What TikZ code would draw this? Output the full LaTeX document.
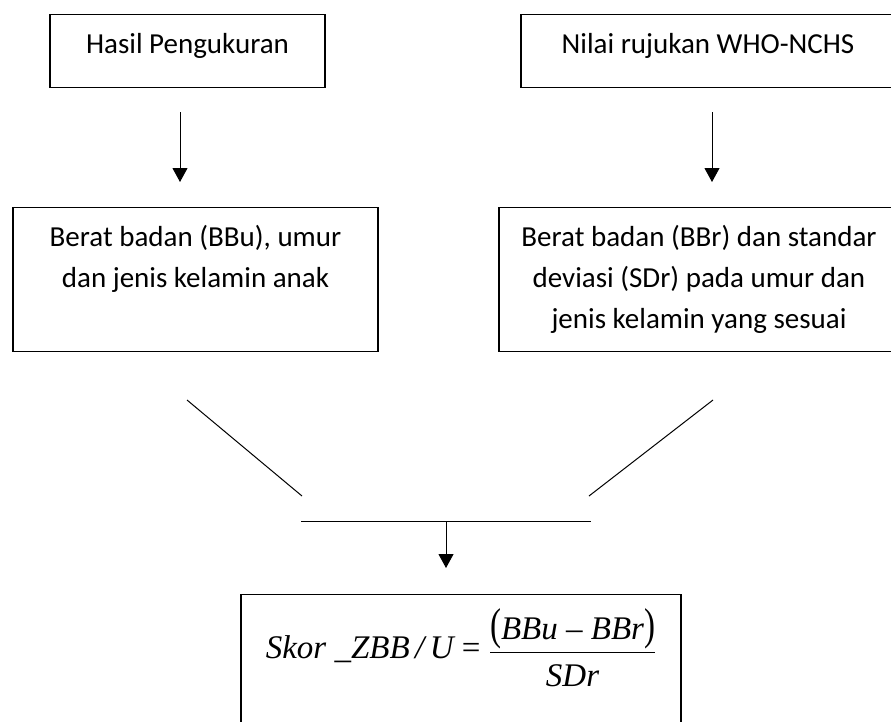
\documentclass[tikz,border=0pt]{standalone}
\usepackage{amsmath}
\usepackage{fontspec}
\setmainfont{Carlito}
\newfontfamily\formfont{Liberation Serif}
\usetikzlibrary{arrows.meta, calc}
\newcommand{\itf}[1]{\text{\formfont\itshape #1}}
\newcommand{\tallparen}[1]{\text{\scalebox{1}[1.35]{\formfont #1}}}

\begin{document}
\begin{tikzpicture}[x=1pt, y=-1pt, line cap=butt, line join=miter,
	box/.style={draw, line width=1.1pt, inner sep=0pt, align=center,
		font=\fontsize{29}{41}\selectfont},
	flow/.style={-{Triangle[length=14pt, width=15pt]}, line width=1pt},
	link/.style={line width=1pt}]
\useasboundingbox (0,0) rectangle (891,721);
%========================
% Top row: sources
%========================
\node[box, anchor=north, minimum width=275pt, text height=39pt, text depth=34pt]
	(hasil) at (187.5,14) {Hasil Pengukuran};
\node[box, anchor=north, minimum width=374pt, text height=39pt, text depth=34pt]
	(nilai) at (708,14) {Nilai rujukan WHO-NCHS};

%========================
% Second row: data
%========================
\node[box, anchor=north, minimum width=365pt, minimum height=144pt]
	(berat) at (195.5,207) {Berat badan (BBu), umur\\dan jenis kelamin anak\\\vphantom{jy}};
\node[box, anchor=north, minimum width=400pt, minimum height=144pt]
	(rujukan) at (699,207) {Berat badan (BBr) dan standar\\deviasi (SDr) pada umur dan\\jenis kelamin yang sesuai};

% arrows down
\draw[flow, shorten <=24pt, shorten >=25pt]
	([xshift=-7.5pt]hasil.south) -- ([xshift=-7.5pt]hasil.south |- berat.north);
\draw[flow, shorten <=24pt, shorten >=25pt]
	([xshift=4pt]nilai.south) -- ([xshift=4pt]nilai.south |- rujukan.north);

%========================
% Joining lines
%========================
\coordinate (ltop) at (187,400);
\coordinate (lbot) at (302,496);
\coordinate (rtop) at (713,400);
\coordinate (rbot) at (589,496);
\coordinate (barl) at (301,521);
\coordinate (barr) at (591,521);
\coordinate (barm) at ($(barl)!0.5!(barr)$);
\draw[link] (ltop) -- (lbot);
\draw[link] (rtop) -- (rbot);
\draw[link] (barl) -- (barr);

%========================
% Result: z-score
%========================
\node[box, anchor=north, minimum width=440pt, text height=64pt, text depth=80pt,
	font=\fontsize{33}{40}\selectfont]
	(skor) at (461,594)
	{$\itf{Skor \_ZBB\,/\,U}\text{\formfont\ =\ }\genfrac{}{}{1.1pt}{0}
		{\tallparen{(}\itf{BBu \textendash{} BBr}\tallparen{)}\rule[-6pt]{0pt}{6pt}}
		{\rule{0pt}{30pt}\itf{SDr}}$};
\draw[flow, shorten >=26pt] (barm) -- (barm |- skor.north);
\end{tikzpicture}
\end{document}
